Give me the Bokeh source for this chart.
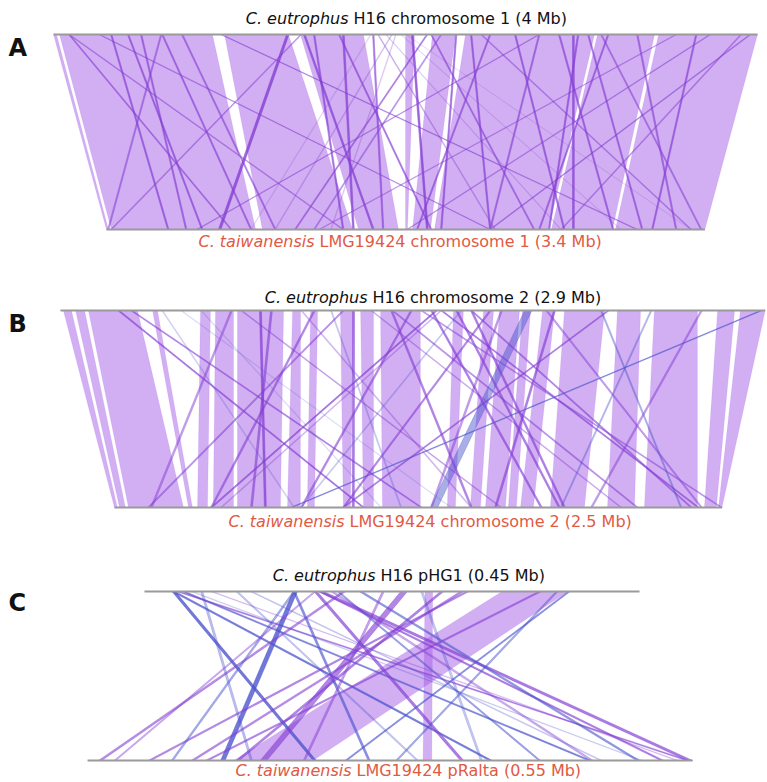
import numpy as np
from bokeh.plotting import figure
from bokeh.models import Range1d, ColumnDataSource
from bokeh.core.properties import value
from bokeh.embed import file_html
from bokeh.resources import INLINE

# ------------------------------------------------------------------ data
# genome lengths (Mb)
A_top_len, A_bot_len = 4.0, 3.4
B_top_len, B_bot_len = 2.9, 2.5
C_top_len, C_bot_len = 0.45, 0.55

# collinear blocks: top-genome start/end, bottom-genome start/end (Mb)
A_blk_top_start = [0.000, 0.034, 0.972, 1.403, 2.000, 2.153, 2.341, 3.091, 3.438]
A_blk_top_end = [0.017, 0.903, 1.335, 1.761, 2.051, 2.284, 3.074, 3.415, 4.000]
A_blk_bot_start = [0.000, 0.028, 0.886, 1.432, 1.699, 1.739, 1.864, 2.528, 2.892]
A_blk_bot_end = [0.011, 0.847, 1.398, 1.659, 1.710, 1.841, 2.511, 2.875, 3.400]

B_blk_top_start = [0.012, 0.062, 0.115, 0.379, 0.576, 0.638, 0.728, 0.955, 1.029, 1.152, 1.235,
                   1.317, 1.617, 1.741, 1.807, 1.901, 1.984, 2.074, 2.292, 2.444, 2.704, 2.798]
B_blk_top_end = [0.045, 0.099, 0.317, 0.399, 0.617, 0.712, 0.918, 0.988, 1.058, 1.206, 1.288,
                 1.481, 1.658, 1.782, 1.889, 1.934, 2.033, 2.239, 2.387, 2.621, 2.774, 2.900]
B_blk_bot_start = [0.000, 0.021, 0.058, 0.305, 0.342, 0.407, 0.506, 0.712, 0.794, 0.942, 1.025,
                   1.103, 1.370, 1.465, 1.527, 1.621, 1.671, 1.794, 2.029, 2.181, 2.428, 2.486]
B_blk_bot_end = [0.012, 0.045, 0.284, 0.321, 0.383, 0.490, 0.683, 0.765, 0.823, 0.971, 1.066,
                 1.259, 1.403, 1.506, 1.609, 1.654, 1.724, 1.934, 2.140, 2.399, 2.477, 2.500]

C_blk_top_start = [0.325, 0.255]
C_blk_top_end = [0.385, 0.262]
C_blk_bot_start = [0.133, 0.305]
C_blk_bot_end = [0.205, 0.313]

# rearranged links: top position, bottom position (Mb), identity (%), length (kb), strand
A_lnk_top = [0.085, 0.085, 0.420, 0.614, 0.727, 1.324, 1.420, 1.477, 1.619, 2.034,
             2.119, 1.841, 1.920, 2.477, 2.619, 2.756, 2.869, 3.148, 3.313, 3.955,
             3.034, 0.256, 0.949, 3.727, 3.534, 2.756, 1.642, 2.284, 2.369, 2.949,
             2.977, 3.648, 1.813, 2.142, 2.199, 1.886, 1.943, 1.972, 1.801, 2.000,
             2.426, 3.108, 3.903, 0.324, 0.494, 0.608, 1.403]
A_lnk_bot = [0.705, 1.341, 0.540, 0.818, 0.955, 0.636, 1.511, 1.341, 1.841, 1.818,
             1.068, 2.205, 0.955, 1.761, 2.597, 2.176, 2.875, 2.455, 3.233, 2.176,
             3.040, 2.176, 3.011, 1.705, 1.205, 0.511, 1.398, 1.898, 2.176, 2.648,
             2.511, 3.097, 1.568, 2.426, 1.176, 2.580, 1.273, 2.920, 0.818, 3.318,
             3.318, 3.375, 2.580, 0.347, 0.449, 0.006, 0.023]
A_lnk_ident = [85, 80, 88, 86, 84, 96, 90, 88, 87, 92,
               85, 75, 72, 86, 88, 85, 87, 86, 85, 82,
               86, 80, 82, 80, 78, 80, 90, 88, 88, 90,
               88, 87, 86, 84, 80, 70, 70, 68, 68, 66,
               80, 82, 80, 88, 86, 82, 80]
A_lnk_kb = [8, 8, 8, 8, 8, 14, 10, 8, 8, 10,
            8, 6, 6, 8, 8, 8, 8, 8, 8, 8,
            8, 8, 8, 8, 8, 8, 10, 8, 8, 10,
            8, 8, 8, 8, 8, 5, 5, 5, 5, 5,
            8, 8, 8, 8, 8, 8, 8]
A_lnk_strand = ["+"] * 47

B_lnk_top = [0.235, 0.288, 1.543, 2.880, 2.251, 1.910, 1.564, 1.687, 1.687, 1.765,
             1.362, 0.819, 1.202, 1.626, 2.029, 1.041, 1.160, 0.416, 0.494, 0.576,
             1.564, 1.646, 0.988, 1.481, 2.222, 2.428, 1.996, 1.811, 1.358, 1.440,
             1.523, 2.634, 0.741, 0.864, 1.111, 1.276, 0.700]
B_lnk_bot = [1.021, 1.259, 0.395, 0.724, 0.938, 1.300, 2.399, 2.370, 1.848, 0.938,
             2.148, 0.617, 0.979, 1.827, 1.564, 0.395, 0.136, 0.737, 1.383, 1.095,
             0.436, 0.765, 1.465, 2.494, 2.329, 1.835, 2.412, 1.300, 1.465, 0.765,
             1.753, 1.959, 1.588, 0.560, 1.177, 2.082, 0.148]
B_lnk_ident = [88, 84, 88, 86, 85, 80, 86, 84, 86, 84,
               82, 90, 88, 86, 86, 84, 82, 70, 68, 68,
               74, 72, 74, 80, 78, 76, 80, 80, 85, 84,
               86, 80, 78, 85, 72, 76, 80]
B_lnk_kb = [8, 8, 8, 8, 8, 30, 8, 8, 8, 8,
            8, 8, 8, 8, 8, 8, 8, 5, 5, 5,
            6, 6, 6, 8, 6, 6, 8, 8, 8, 8,
            8, 8, 6, 8, 5, 6, 8]
B_lnk_strand = ["+", "+", "+", "-", "+", "-", "+", "+", "+", "+",
                "+", "+", "+", "+", "+", "+", "+", "-", "-", "-",
                "+", "-", "+", "+", "-", "-", "+", "+", "+", "+",
                "+", "+", "+", "+", "-", "+", "+"]

C_lnk_top = [0.025, 0.025, 0.034, 0.029, 0.135, 0.135, 0.154, 0.158, 0.180, 0.385,
             0.269, 0.292, 0.158, 0.060, 0.195, 0.135, 0.175, 0.083, 0.358, 0.216,
             0.154, 0.233, 0.287, 0.042, 0.096, 0.051, 0.169, 0.374, 0.251]
C_lnk_bot = [0.205, 0.365, 0.455, 0.544, 0.121, 0.255, 0.339, 0.521, 0.010, 0.234,
             0.135, 0.055, 0.545, 0.535, 0.499, 0.076, 0.410, 0.299, 0.107, 0.196,
             0.024, 0.157, 0.094, 0.503, 0.466, 0.148, 0.457, 0.280, 0.357]
C_lnk_ident = [92, 90, 88, 85, 92, 86, 88, 86, 84, 86,
               86, 84, 88, 72, 84, 80, 82, 74, 84, 80,
               78, 86, 84, 70, 72, 76, 78, 80, 74]
C_lnk_kb = [3, 3, 3, 3, 4, 2, 3, 3, 3, 2,
            3, 3, 5, 2, 3, 2, 2, 2, 3, 2,
            2, 6, 3, 2, 2, 2, 3, 2, 2]
C_lnk_strand = ["-", "-", "-", "+", "-", "-", "+", "+", "+", "-",
                "+", "+", "+", "+", "-", "-", "-", "-", "+", "+",
                "+", "+", "+", "-", "-", "-", "+", "-", "-"]

# labels
panel_letters = ["A", "B", "C"]
label_italic = ["C. eutrophus", "C. taiwanensis", "C. eutrophus", "C. taiwanensis",
                "C. eutrophus", "C. taiwanensis"]
label_rest = ["H16 chromosome 1  (4 Mb)", "LMG19424 chromosome 1 (3.4 Mb)",
              "H16 chromosome 2  (2.9 Mb)", "LMG19424 chromosome 2 (2.5  Mb)",
              "H16 pHG1  (0.45 Mb)", "LMG19424 pRalta (0.55 Mb)"]

# ------------------------------------------------------------------ layout (page pixels)
PAGE_L, PAGE_R, PAGE_T, PAGE_B = 0, 767, 0, 782
LAYOUT = {
    "A": dict(px0=53, scale=176, bot_offset=0.301, y_top=34, y_bot=229),
    "B": dict(px0=60, scale=243, bot_offset=0.222, y_top=310, y_bot=507),
    "C": dict(px0=144, scale=1100, bot_offset=-0.0518, y_top=591, y_bot=760),
}
label_split_x = [348, 314, 367, 344, 375, 351]
label_base_y = [18, 241, 297, 521, 575, 770]
label_color = ["#111111", "#e05a44", "#111111", "#e05a44", "#111111", "#e05a44"]
letter_base_y = [47, 323, 602]

PANELS = {
    "A": dict(top_len=A_top_len, bot_len=A_bot_len,
              blk=(A_blk_top_start, A_blk_top_end, A_blk_bot_start, A_blk_bot_end),
              lnk=(A_lnk_top, A_lnk_bot, A_lnk_ident, A_lnk_kb, A_lnk_strand)),
    "B": dict(top_len=B_top_len, bot_len=B_bot_len,
              blk=(B_blk_top_start, B_blk_top_end, B_blk_bot_start, B_blk_bot_end),
              lnk=(B_lnk_top, B_lnk_bot, B_lnk_ident, B_lnk_kb, B_lnk_strand)),
    "C": dict(top_len=C_top_len, bot_len=C_bot_len,
              blk=(C_blk_top_start, C_blk_top_end, C_blk_bot_start, C_blk_bot_end),
              lnk=(C_lnk_top, C_lnk_bot, C_lnk_ident, C_lnk_kb, C_lnk_strand)),
}

p = figure(width=PAGE_R - PAGE_L, height=PAGE_B - PAGE_T,
           x_range=Range1d(PAGE_L, PAGE_R), y_range=Range1d(PAGE_B, PAGE_T),
           output_backend="svg", toolbar_location=None, min_border=0,
           x_axis_location=None, y_axis_location=None, outline_line_color=None)
p.grid.visible = False
p.background_fill_color = "white"
p.border_fill_color = "white"

p.extra_x_ranges = {
    k: Range1d((PAGE_L - lay["px0"]) / lay["scale"], (PAGE_R - lay["px0"]) / lay["scale"])
    for k, lay in LAYOUT.items()
}

for k, pan in PANELS.items():
    lay = LAYOUT[k]
    off, yt, yb = lay["bot_offset"], lay["y_top"], lay["y_bot"]

    # collinear blocks
    ts, te, bs, be = pan["blk"]
    xs = [[a, b, d + off, c + off] for a, b, c, d in zip(ts, te, bs, be)]
    ys = [[yt, yt, yb, yb] for _ in xs]
    p.patches(xs, ys, fill_color="#a55ee6", fill_alpha=0.5, line_color="#a55ee6",
              line_alpha=0.25, line_width=0.5, x_range_name=k)

    # rearranged links
    lt, lb, ident, kb, strand = pan["lnk"]
    ln = np.array(kb) / 1000.0
    lxs = [[t, t + l, b + off + l, b + off] for t, b, l in zip(lt, lb, ln)]
    lys = [[yt, yt, yb, yb] for _ in lxs]
    alpha = np.clip((np.array(ident) - 62.0) / 38.0, 0.12, 0.8)
    color = ["#8440d4" if s == "+" else "#4c54cc" for s in strand]
    src = ColumnDataSource(dict(xs=lxs, ys=lys, color=color, alpha=alpha))
    p.patches("xs", "ys", source=src, fill_color="color", fill_alpha="alpha",
              line_color="color", line_alpha="alpha", line_width=0.6, x_range_name=k)

    # genome tracks
    p.segment(x0=[0, off], x1=[pan["top_len"], off + pan["bot_len"]], y0=[yt, yb], y1=[yt, yb],
              line_color="#9a9a9a", line_width=2, x_range_name=k)

# titles
lab = ColumnDataSource(dict(x=label_split_x, x2=[v + 5 for v in label_split_x], y=label_base_y,
                            it=label_italic, rest=label_rest, color=label_color))
p.text(x="x", y="y", text="it", source=lab, text_font=value("DejaVu Sans"),
       text_font_size="16px", text_font_style="italic", text_align="right",
       text_baseline="alphabetic", text_color="color")
p.text(x="x2", y="y", text="rest", source=lab, text_font=value("DejaVu Sans"),
       text_font_size="16px", text_align="left",
       text_baseline="alphabetic", text_color="color")

p.text(x=[8] * 3, y=letter_base_y, text=panel_letters, text_font=value("DejaVu Sans"),
       text_font_size="24px", text_font_style="bold", text_align="left",
       text_baseline="alphabetic", text_color="#111111")

open("out.html", "w").write(file_html(p, INLINE))
